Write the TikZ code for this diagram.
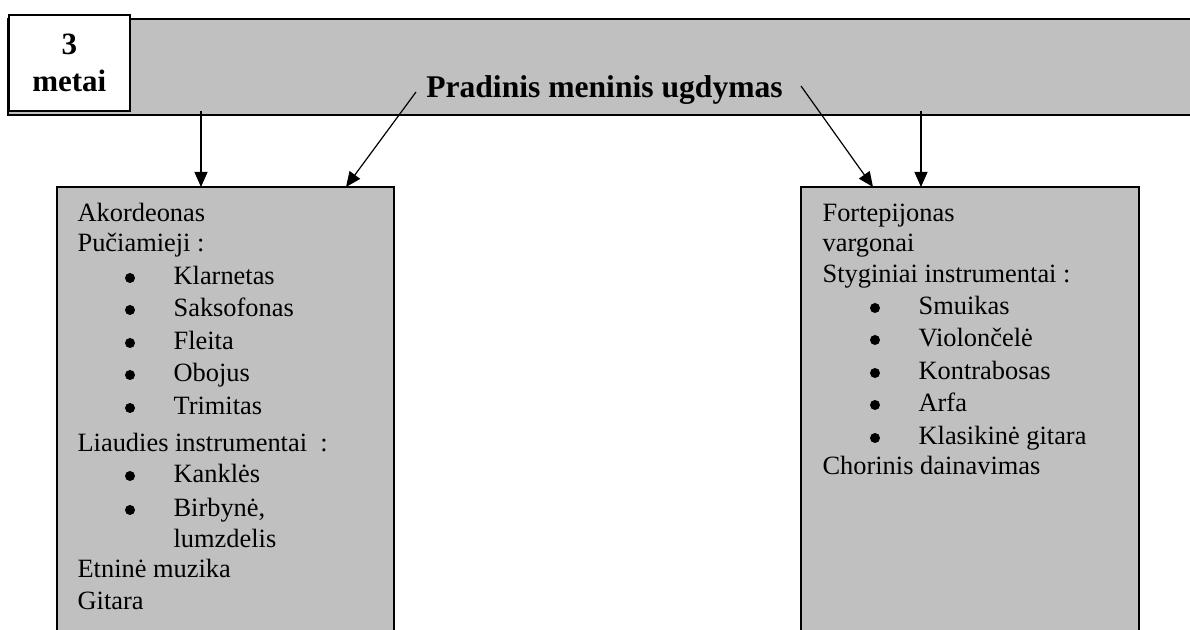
\documentclass[tikz,border=0pt]{standalone}
\usepackage{fontspec}
\setmainfont{Liberation Serif}
\usetikzlibrary{arrows.meta,positioning}
\definecolor{pilka}{HTML}{C0C0C0}
\tikzset{
  dezute/.style={fill=pilka,inner sep=0pt},
  eilute/.style={anchor=base west,inner sep=0pt,font=\fontsize{13.2}{16}\selectfont},
  taskas/.style={circle,fill=black,inner sep=0pt,minimum size=5pt},
}
\begin{document}
\begin{tikzpicture}[x=0.5pt,y=-0.5pt,->,>={Triangle[length=7.5pt,width=6.5pt]},semithick]
                \useasboundingbox (0,0) rectangle (1190,630);
                % juosta virsuje
                \node[dezute,minimum width=591pt,minimum height=47.5pt,anchor=north west](juosta)at(8,19){};
                \draw[-,thick](juosta.north east) -| (juosta.south west) -- (juosta.south east);
                \node[draw=black,thick,fill=white,align=center,minimum width=60.5pt,minimum height=48pt,anchor=north west,
                      font=\fontsize{15.5}{18.5}\selectfont\bfseries](metai)at(8,14){3\\metai};
                \node[anchor=base,inner sep=0pt,font=\fontsize{15.8}{19}\selectfont\bfseries](title)at(604.5,98){Pradinis meninis ugdymas};
                % dezes
                \node[dezute,minimum width=168pt,minimum height=223pt,anchor=north west](kaire)at(57,187){};
                \draw[-,thick](kaire.south west) |- (kaire.north east) -- (kaire.south east);
                \node[dezute,minimum width=168.5pt,minimum height=223pt,anchor=north west](desine)at(801,187){};
                \draw[-,thick](desine.south west) |- (desine.north east) -- (desine.south east);
                % rodykles
                \coordinate(a1)at(201,111);
                \coordinate(a2)at(416,92);
                \coordinate(k2)at(346,187);
                \coordinate(a3)at(801,86);
                \coordinate(d3)at(873,187);
                \coordinate(a4)at(921,111);
                \path(a1) edge (a1 |- kaire.north)
                (a2) edge (k2)
                (a3) edge (d3)
                (a4) edge (a4 |- desine.north);
                % kaire
                \node[eilute](akord)at(77,222){Akordeonas};
                \node[eilute](pucia)at(77,252){Pučiamieji :};
                \node[taskas](b1)at(130,278){};
                \node[eilute](klarn)at(173,285){Klarnetas};
                \node[taskas](b2)at(130,310){};
                \node[eilute](saks)at(173,317){Saksofonas};
                \node[taskas](b3)at(130,343){};
                \node[eilute](fleita)at(173,350){Fleita};
                \node[taskas](b4)at(130,375){};
                \node[eilute](obojus)at(173,382){Obojus};
                \node[taskas](b5)at(130,408){};
                \node[eilute](trim)at(173,415){Trimitas};
                \node[eilute](liaud)at(77,452){Liaudies instrumentai\enspace:};
                \node[taskas](b6)at(130,476){};
                \node[eilute](kankl)at(173,483){Kanklės};
                \node[taskas](b7)at(130,510){};
                \node[eilute](birb)at(173,517){Birbynė,};
                \node[eilute](lumz)at(173,548){lumzdelis};
                \node[eilute](etn)at(77,578){Etninė muzika};
                \node[eilute](gitara)at(77,610){Gitara};
                % desine
                \node[eilute](fort)at(822,222){Fortepijonas};
                \node[eilute](varg)at(822,252){vargonai};
                \node[eilute](styg)at(822,283){Styginiai instrumentai :};
                \node[taskas](c1)at(875,308){};
                \node[eilute](smuik)at(918,315){Smuikas};
                \node[taskas](c2)at(875,340){};
                \node[eilute](viol)at(918,347){Violončelė};
                \node[taskas](c3)at(875,373){};
                \node[eilute](kontr)at(918,380){Kontrabosas};
                \node[taskas](c4)at(875,405){};
                \node[eilute](arfa)at(918,412){Arfa};
                \node[taskas](c5)at(875,438){};
                \node[eilute](klas)at(918,445){Klasikinė gitara};
                \node[eilute](chor)at(822,475){Chorinis dainavimas};
            \end{tikzpicture}
\end{document}
